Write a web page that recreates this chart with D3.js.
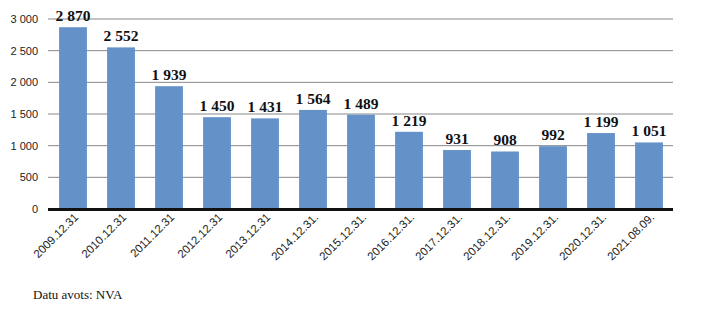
<!DOCTYPE html>
<html><head><meta charset="utf-8">
<script src="https://cdn.jsdelivr.net/npm/d3@7"></script>
<style>body{margin:0;background:#fff}svg{display:block}</style>
</head><body>
<script>
const categories = ["2009.12.31","2010.12.31","2011.12.31","2012.12.31","2013.12.31","2014.12.31.","2015.12.31.","2016.12.31.","2017.12.31.","2018.12.31.","2019.12.31.","2020.12.31.","2021.08.09."];
const values = [2870,2552,1939,1450,1431,1564,1489,1219,931,908,992,1199,1051];
const yTicks = [0,500,1000,1500,2000,2500,3000];
const source = "Datu avots: NVA";

const W=705,H=312;
const svg=d3.select("body").append("svg").attr("width",W).attr("height",H);
const x=d3.scaleBand().domain(categories).range([49,673]).paddingInner(0.42).paddingOuter(0.21);
const y=d3.scaleLinear().domain([0,3000]).range([209,19]);
const fmt=v=>{const s=String(v);return s.length>3?s.slice(0,-3)+" "+s.slice(-3):s;};

const g=svg.append("g");
g.selectAll("line.grid").data(yTicks.slice(1)).join("line")
 .attr("x1",48).attr("x2",673).attr("y1",d=>y(d)).attr("y2",d=>y(d))
 .attr("stroke","#888").attr("stroke-width",1);
g.selectAll("text.yt").data(yTicks).join("text")
 .attr("x",38).attr("y",d=>y(d)+4).attr("text-anchor","end")
 .attr("font-family","'Liberation Sans', sans-serif").attr("font-size",11).attr("fill","#222")
 .text(d=>fmt(d));

g.selectAll("rect").data(values).join("rect")
 .attr("x",(d,i)=>x(categories[i])).attr("width",x.bandwidth())
 .attr("y",d=>y(d)).attr("height",d=>y(0)-y(d)).attr("fill","#6591c9");

g.append("line").attr("x1",48).attr("x2",673).attr("y1",209.5).attr("y2",209.5).attr("stroke","#111").attr("stroke-width",3);

g.selectAll("text.v").data(values).join("text")
 .attr("x",(d,i)=>x(categories[i])+x.bandwidth()/2).attr("y",d=>y(d)-6)
 .attr("text-anchor","middle").attr("font-family","'Liberation Serif', serif").attr("font-weight","bold")
 .attr("font-size",15.5).attr("fill","#111").text(d=>fmt(d));

g.selectAll("text.xl").data(categories).join("text")
 .attr("transform",(d)=>`translate(${x(d)+x.bandwidth()/2+6},${218}) rotate(-45)`)
 .attr("text-anchor","end").attr("font-family","'Liberation Sans', sans-serif")
 .attr("font-size",11.5).attr("fill","#222").text(d=>d);

svg.append("text").attr("x",33).attr("y",299).attr("font-family","'Liberation Serif', serif")
 .attr("font-size",13).attr("fill","#111").text(source);
</script>
</body></html>
